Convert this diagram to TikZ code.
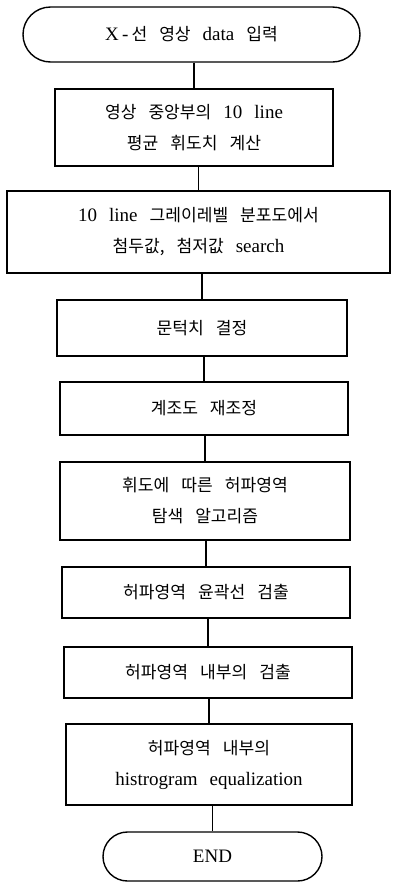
\documentclass[tikz,border=0pt]{standalone}
\usepackage{fontspec}
\setmainfont{Liberation Serif}
\newfontfamily\kr{Noto Sans CJK KR}[Scale=0.9]
\usetikzlibrary{shapes.misc}
\newcommand\K[1]{{\kr #1}}
\newcommand\gap{\hspace{12pt}}
\tikzset{
  base/.style={draw, line width=1.4pt, inner sep=0pt, align=center,
    font=\fontsize{19}{31}\selectfont},
  stepbox/.style={base, rectangle},
  term/.style={base, rounded rectangle},
  conn/.style={line width=1.4pt}
}
\begin{document}
\begin{tikzpicture}[x=1pt,y=1pt]
\useasboundingbox[fill=white] (0,0) rectangle (392,-884);
\node[term, minimum width=337pt, minimum height=55pt] (n1) at (191.5,-34.5)
  {X\,-\,\K{선}\gap\K{영상}\gap data\gap\K{입력}};
\node[stepbox, minimum width=278pt, minimum height=77pt] (n2) at (194,-127.5)
  {\K{영상}\gap\K{중앙부의}\gap 10\gap line\\\K{평균}\gap\K{휘도치}\gap\K{계산}};
\node[stepbox, minimum width=383pt, minimum height=82pt] (n3) at (198.5,-232)
  {10\gap line\gap\K{그레이레벨}\gap\K{분포도에서}\\\K{첨두값,}\gap\K{첨저값}\gap search};
\node[stepbox, minimum width=290pt, minimum height=56pt] (n4) at (202,-328)
  {\K{문턱치}\gap\K{결정}};
\node[stepbox, minimum width=288pt, minimum height=53pt] (n5) at (204,-408.5)
  {\K{계조도}\gap\K{재조정}};
\node[stepbox, minimum width=290pt, minimum height=78pt] (n6) at (205,-501)
  {\K{휘도에}\gap\K{따른}\gap\K{허파영역}\\\K{탐색}\gap\K{알고리즘}};
\node[stepbox, minimum width=288pt, minimum height=51pt] (n7) at (206,-592.5)
  {\K{허파영역}\gap\K{윤곽선}\gap\K{검출}};
\node[stepbox, minimum width=288pt, minimum height=51pt] (n8) at (208,-672.5)
  {\K{허파영역}\gap\K{내부의}\gap\K{검출}};
\node[stepbox, minimum width=286pt, minimum height=81pt] (n9) at (209,-764.5)
  {\K{허파영역}\gap\K{내부의}\\histrogram\gap equalization};
\node[term, minimum width=219pt, minimum height=49pt] (n10) at (212.5,-856.5)
  {END};
\foreach \a/\b in {n1/n2,n2/n3,n3/n4,n4/n5,n5/n6,n6/n7,n7/n8,n8/n9,n9/n10}
  \draw[conn] (\b.north |- \a.south) -- (\b.north);
\end{tikzpicture}
\end{document}
